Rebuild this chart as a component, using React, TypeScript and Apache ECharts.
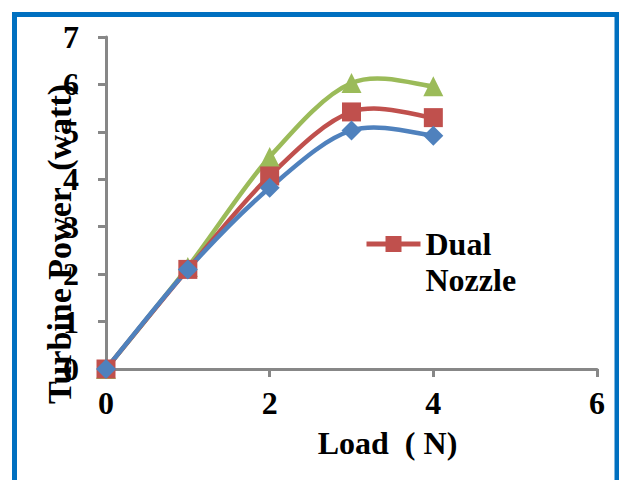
import React, { useEffect, useRef } from "react";
import * as echarts from "echarts";

const loads = [0, 1, 2, 3, 4];
const singleNozzle = [0, 2.1, 3.82, 5.03, 4.92];
const dualNozzle = [0, 2.1, 4.07, 5.42, 5.3];
const tripleNozzle = [0, 2.15, 4.47, 6.03, 5.96];
const legendNames = ["Dual Nozzle"];

const FONT = "'Liberation Serif', 'Times New Roman', serif";
const AXIS_GRAY = "#878787";
const BLUE = "#4F81BD";
const RED = "#C0504D";
const GREEN = "#9BBB59";

function pairs(ys: number[]) {
  return loads.map((x, i) => [x, ys[i]]);
}

// Smooth (Catmull-Rom style, like a spreadsheet's smoothed line) drawn in pixel space via the axes.
function curveSeries(name: string, ys: number[], color: string) {
  return {
    name,
    type: "custom",
    silent: true,
    data: pairs(ys),
    encode: { x: 0, y: 1 },
    renderItem: (params: any, api: any) => {
      const i = params.dataIndex;
      const n = ys.length;
      if (i >= n - 1) return null;
      const pt = (k: number) => {
        const kk = Math.max(0, Math.min(n - 1, k));
        return api.coord([loads[kk], ys[kk]]);
      };
      const p0 = pt(i - 1);
      const p1 = pt(i);
      const p2 = pt(i + 1);
      const p3 = pt(i + 2);
      const t = 1 / 6;
      return {
        type: "bezierCurve",
        shape: {
          x1: p1[0],
          y1: p1[1],
          x2: p2[0],
          y2: p2[1],
          cpx1: p1[0] + (p2[0] - p0[0]) * t,
          cpy1: p1[1] + (p2[1] - p0[1]) * t,
          cpx2: p2[0] - (p3[0] - p1[0]) * t,
          cpy2: p2[1] - (p3[1] - p1[1]) * t,
        },
        style: { stroke: color, lineWidth: 4.5, fill: "none", lineCap: "round" },
      };
    },
  };
}

function markerSeries(name: string, ys: number[], color: string, symbol: string, size: number) {
  return {
    name,
    type: "line",
    data: pairs(ys),
    symbol,
    symbolSize: size,
    lineStyle: { color, width: 4.5, opacity: 0 },
    itemStyle: { color },
    z: 3,
  };
}

export default function App() {
  const ref = useRef<HTMLDivElement>(null);
  useEffect(() => {
    if (!ref.current) return;
    const chart = echarts.init(ref.current, null, { renderer: "svg" });
    const axisText = { color: "#000", fontSize: 32, fontWeight: "bold" as const, fontFamily: FONT };
    chart.setOption({
      animation: false,
      backgroundColor: "#fff",
      graphic: [
        {
          type: "rect",
          shape: { x: 14.5, y: 14.5, width: 602.5, height: 520 },
          style: { fill: "none", stroke: "#0070C0", lineWidth: 5 },
          silent: true,
        },
      ],
      grid: { left: 106, right: 22, top: 37, bottom: 111 },
      legend: {
        data: legendNames,
        left: 364,
        top: 190,
        padding: 0,
        itemWidth: 54,
        itemHeight: 20,
        itemGap: 4,
        lineStyle: { color: RED, width: 5, opacity: 1 },
        formatter: () => "\u00a0\nDual\nNozzle",
        textStyle: {
          color: "#000",
          fontSize: 32,
          fontWeight: "bold",
          fontFamily: FONT,
          lineHeight: 36,
        },
      },
      xAxis: {
        type: "value",
        min: 0,
        max: 6,
        interval: 2,
        name: "Load  ( N)",
        nameLocation: "middle",
        nameGap: 58,
        nameMoveOverlap: false,
        nameTextStyle: { ...axisText, padding: [0, 0, 0, 72] },
        axisLine: { lineStyle: { color: AXIS_GRAY, width: 3 } },
        axisTick: { show: true, length: 8, lineStyle: { color: AXIS_GRAY, width: 3 } },
        splitLine: { show: false },
        axisLabel: { ...axisText, margin: 18 },
      },
      yAxis: {
        type: "value",
        min: 0,
        max: 7,
        interval: 1,
        name: "Turbine Power  (watt)",
        nameLocation: "middle",
        nameGap: 30,
        nameMoveOverlap: false,
        nameTextStyle: { ...axisText, fontSize: 34, padding: [0, 82, 0, 0] },
        axisLine: { show: true, lineStyle: { color: AXIS_GRAY, width: 3 } },
        axisTick: { show: true, length: 8, lineStyle: { color: AXIS_GRAY, width: 3 } },
        splitLine: { show: false },
        axisLabel: { ...axisText, margin: 27 },
      },
      series: [
        curveSeries("Triple Nozzle curve", tripleNozzle, GREEN),
        curveSeries("Dual Nozzle curve", dualNozzle, RED),
        curveSeries("Single Nozzle curve", singleNozzle, BLUE),
        markerSeries("Triple Nozzle", tripleNozzle, GREEN, "triangle", 20),
        markerSeries("Dual Nozzle", dualNozzle, RED, "rect", 19),
        markerSeries("Single Nozzle", singleNozzle, BLUE, "diamond", 20),
      ],
    });
    return () => chart.dispose();
  }, []);
  return (
    <div
      ref={ref}
      style={{ position: "fixed", left: 0, top: 0, width: 619, height: 480 }}
    />
  );
}
